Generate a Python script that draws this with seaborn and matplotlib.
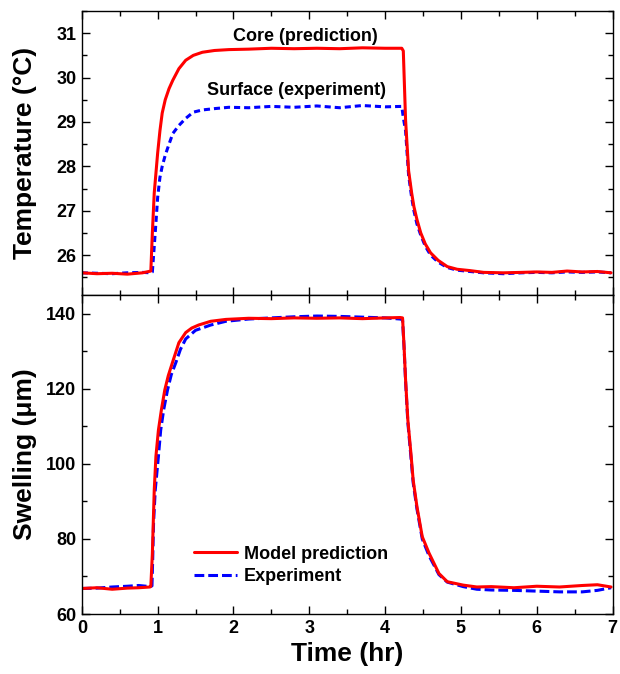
import matplotlib
matplotlib.use("Agg")
import matplotlib.pyplot as plt
from matplotlib.ticker import MultipleLocator
import seaborn as sns
import pandas as pd

# ---- temperature panel ----
temp_time = [0, 0.2, 0.4, 0.6, 0.8, 0.91, 0.93, 0.955, 0.98, 1.0, 1.03, 1.06, 1.1,
             1.15, 1.2, 1.28, 1.37, 1.47, 1.59, 1.75, 1.94, 2.2, 2.5, 2.8, 3.1, 3.4,
             3.7, 4.0, 4.22, 4.24, 4.27, 4.31, 4.35, 4.38, 4.42, 4.47, 4.53, 4.6,
             4.7, 4.82, 4.95, 5.12, 5.3, 5.56, 5.8, 6.0, 6.2, 6.4, 6.6, 6.8, 6.98]
core_pred = [25.60, 25.58, 25.59, 25.57, 25.60, 25.64, 26.5, 27.4, 27.9, 28.3, 28.8,
             29.2, 29.5, 29.75, 29.94, 30.2, 30.39, 30.5, 30.57, 30.61, 30.63, 30.64,
             30.66, 30.65, 30.66, 30.65, 30.67, 30.66, 30.66, 30.6, 29.04, 27.9, 27.4,
             27.09, 26.8, 26.5, 26.25, 26.05, 25.88, 25.74, 25.68, 25.65, 25.61, 25.6,
             25.61, 25.62, 25.61, 25.64, 25.62, 25.63, 25.6]
surface_exp = [25.6, 25.59, 25.58, 25.6, 25.61, 25.6, 25.62, 26.2, 26.8, 27.3, 27.75,
               28.0, 28.25, 28.5, 28.74, 28.92, 29.08, 29.22, 29.27, 29.3, 29.33, 29.32,
               29.35, 29.33, 29.36, 29.32, 29.37, 29.34, 29.35, 29.1, 28.8, 27.8, 27.3,
               27.0, 26.7, 26.45, 26.2, 26.0, 25.84, 25.72, 25.66, 25.63, 25.6, 25.58,
               25.6, 25.61, 25.6, 25.62, 25.61, 25.62, 25.6]

# ---- swelling panel ----
model_time = [0, 0.2, 0.4, 0.6, 0.75, 0.9, 0.91, 0.93, 0.942, 0.955, 0.977, 1.01,
              1.05, 1.094, 1.14, 1.195, 1.28, 1.37, 1.45, 1.54, 1.7, 1.9, 2.2, 2.5,
              2.8, 3.1, 3.4, 3.7, 4.0, 4.2, 4.23, 4.25, 4.27, 4.30, 4.34, 4.37, 4.42,
              4.49, 4.58, 4.71, 4.82, 5.03, 5.21, 5.4, 5.7, 6.0, 6.3, 6.6, 6.8, 6.98]
swell_model = [66.8, 67.0, 66.6, 66.9, 67.0, 67.2, 67.4, 76, 84.3, 93, 102, 109,
               114.5, 119.7, 123.5, 127, 132.3, 135, 136.2, 137, 138, 138.5, 138.8,
               138.7, 138.9, 138.8, 138.9, 138.7, 138.9, 139.0, 138.9, 131.3, 122.4,
               111.7, 102.9, 95.7, 88.6, 80.6, 76.2, 70.8, 68.6, 67.7, 67.2, 67.3,
               67.0, 67.4, 67.2, 67.6, 67.8, 67.2]
exp_time = [0, 0.2, 0.4, 0.6, 0.75, 0.9, 0.925, 0.935, 0.946, 0.968, 1.01, 1.04,
            1.08, 1.13, 1.18, 1.24, 1.3, 1.37, 1.5, 1.7, 1.9, 2.2, 2.5, 2.8, 3.1,
            3.4, 3.7, 4.0, 4.2, 4.23, 4.25, 4.27, 4.30, 4.34, 4.37, 4.42, 4.49,
            4.58, 4.71, 4.82, 5.03, 5.21, 5.4, 5.7, 6.0, 6.3, 6.6, 6.8, 6.98]
swell_exp = [66.8, 66.9, 67.2, 67.4, 67.6, 67.3, 67.5, 75, 84.3, 93, 102, 109, 114.5,
             119.7, 123.8, 127, 130.5, 133.3, 135.6, 137, 138, 138.6, 138.9, 139.2,
             139.4, 139.3, 139.1, 138.9, 138.6, 138.4, 131, 122, 111, 102, 95, 88,
             80, 75.5, 70.5, 68.5, 67.3, 66.6, 66.4, 66.3, 66.1, 65.9, 65.9, 66.3,
             67.0]

temp_df = pd.DataFrame({"t": temp_time, "core": core_pred, "surface": surface_exp})
model_df = pd.DataFrame({"t": model_time, "swelling": swell_model})
exp_df = pd.DataFrame({"t": exp_time, "swelling": swell_exp})

sns.set_theme(style="ticks")
plt.rcParams["font.family"] = ["Liberation Sans", "DejaVu Sans"]
plt.rcParams["font.weight"] = "bold"
plt.rcParams["text.color"] = "black"
plt.rcParams["axes.labelcolor"] = "black"
plt.rcParams["xtick.color"] = "black"
plt.rcParams["ytick.color"] = "black"
plt.rcParams["axes.edgecolor"] = "black"

RED = "#ff0000"
BLUE = "#0000ff"

fig = plt.figure(figsize=(6.2, 6.74), dpi=100)
ax1 = fig.add_axes([0.132, 0.5623, 0.856, 0.4214])
ax2 = fig.add_axes([0.132, 0.089, 0.856, 0.4733])

sns.lineplot(data=temp_df, x="t", y="surface", ax=ax1, color=BLUE, lw=2.2,
             linestyle=(0, (2.0, 1.3)), estimator=None, sort=False)
sns.lineplot(data=temp_df, x="t", y="core", ax=ax1, color=RED, lw=2.2,
             estimator=None, sort=False)

sns.lineplot(data=exp_df, x="t", y="swelling", ax=ax2, color=BLUE, lw=2.2,
             linestyle=(0, (3.2, 1.3)), estimator=None, sort=False,
             label="Experiment")
sns.lineplot(data=model_df, x="t", y="swelling", ax=ax2, color=RED, lw=2.2,
             estimator=None, sort=False, label="Model prediction")

ax1.set_xlim(0, 7)
ax1.set_ylim(25.1, 31.5)
ax2.set_xlim(0, 7)
ax2.set_ylim(60, 145)

for ax in (ax1, ax2):
    ax.xaxis.set_major_locator(MultipleLocator(1))
    ax.xaxis.set_minor_locator(MultipleLocator(0.5))
    ax.tick_params(which="both", direction="in", top=True, right=True,
                   width=1.0, colors="black", labelsize=13, pad=4)
    ax.tick_params(which="major", length=6)
    ax.tick_params(which="minor", length=3.5)
    for s in ax.spines.values():
        s.set_linewidth(1.0)
        s.set_color("black")
    for lab in ax.get_xticklabels() + ax.get_yticklabels():
        lab.set_fontweight("bold")

ax1.yaxis.set_major_locator(MultipleLocator(1))
ax1.yaxis.set_minor_locator(MultipleLocator(0.5))
ax2.yaxis.set_major_locator(MultipleLocator(20))
ax2.yaxis.set_minor_locator(MultipleLocator(10))
ax1.tick_params(labelbottom=False)

ax1.set_xlabel("")
ax1.set_ylabel("Temperature (°C)", fontsize=19, fontweight="bold")
ax2.set_ylabel("Swelling (μm)", fontsize=19, fontweight="bold")
ax2.set_xlabel("Time (hr)", fontsize=19, fontweight="bold", labelpad=4)
ax1.yaxis.set_label_coords(-0.084, 0.5)
ax2.yaxis.set_label_coords(-0.084, 0.5)

ax1.text(2.945, 30.93, "Core (prediction)", ha="center", va="center",
         fontsize=13, fontweight="bold", color="black")
ax1.text(2.83, 29.7, "Surface (experiment)", ha="center", va="center",
         fontsize=13, fontweight="bold", color="black")

handles, labels = ax2.get_legend_handles_labels()
order = [labels.index("Model prediction"), labels.index("Experiment")]
leg = ax2.legend([handles[i] for i in order], [labels[i] for i in order],
                 loc="center left", bbox_to_anchor=(0.197, 0.152), frameon=False,
                 fontsize=13, handlelength=2.4, handletextpad=0.4,
                 labelspacing=0.3, borderaxespad=0)
for txt in leg.get_texts():
    txt.set_fontweight("bold")

fig.savefig("out.png", dpi=100)
